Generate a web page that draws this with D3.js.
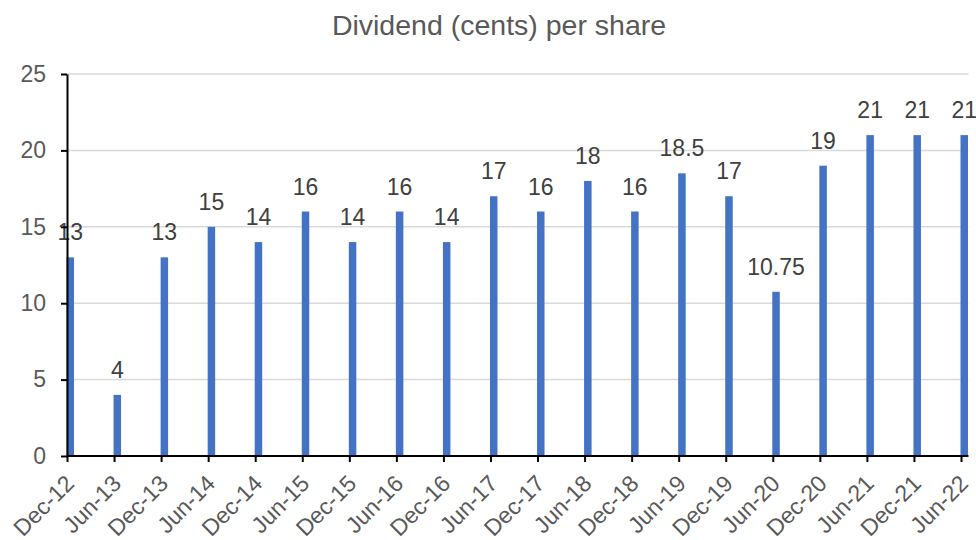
<!DOCTYPE html>
<meta charset="utf-8">
<script src="https://d3js.org/d3.v7.min.js"></script>
<style>
  body { margin: 0; background: #fff; }
  text { font-family: "Liberation Sans", Arial, sans-serif; }
</style>
<div id="chart"></div>
<script>
  // data
  var periods = ["Dec-12", "Jun-13", "Dec-13", "Jun-14", "Dec-14", "Jun-15", "Dec-15", "Jun-16", "Dec-16", "Jun-17",
                 "Dec-17", "Jun-18", "Dec-18", "Jun-19", "Dec-19", "Jun-20", "Dec-20", "Jun-21", "Dec-21", "Jun-22"];
  var dividends = [13, 4, 13, 15, 14, 16, 14, 16, 14, 17, 16, 18, 16, 18.5, 17, 10.75, 19, 21, 21, 21];
  var yTicks = [0, 5, 10, 15, 20, 25];
  var title = "Dividend (cents) per share";

  var width = 976, height = 540;
  var plotLeft = 67, plotRight = 961, plotTop = 74, plotBottom = 456;
  var barW = 7.5;

  var svg = d3.select("#chart")
    .append("svg")
      .attr("width", width)
      .attr("height", height);

  var x = d3.scalePoint()
    .domain(periods)
    .range([plotLeft, plotRight]);

  var y = d3.scaleLinear()
    .domain([0, 25])
    .range([plotBottom, plotTop]);

  // gridlines
  svg.append("g")
    .selectAll("line")
    .data(yTicks.slice(1))
    .join("line")
      .attr("x1", plotLeft)
      .attr("x2", plotRight + barW)
      .attr("y1", d => y(d))
      .attr("y2", d => y(d))
      .attr("stroke", "#d9d9d9")
      .attr("stroke-width", 1.5);

  // bars
  svg.append("g")
    .selectAll("rect")
    .data(dividends)
    .join("rect")
      .attr("x", (d, i) => x(periods[i]) - 0.5)
      .attr("y", d => y(d))
      .attr("width", barW)
      .attr("height", d => plotBottom - y(d))
      .attr("fill", "#4472C4");

  // value labels
  svg.append("g")
    .selectAll("text")
    .data(dividends)
    .join("text")
      .attr("x", (d, i) => x(periods[i]) - 0.5 + barW / 2)
      .attr("y", d => y(d) - 17)
      .attr("text-anchor", "middle")
      .attr("font-size", 23)
      .attr("fill", "#404040")
      .text(d => d);

  // y axis
  var yAxis = svg.append("g")
    .attr("transform", "translate(" + plotLeft + ",0)")
    .call(d3.axisLeft(y).tickValues(yTicks).tickSize(6).tickPadding(15).tickSizeOuter(0));
  yAxis.select(".domain").attr("stroke", "#000").attr("stroke-width", 2);
  yAxis.selectAll(".tick line").attr("stroke", "#000").attr("stroke-width", 2);
  yAxis.selectAll("text")
    .attr("font-size", 23)
    .attr("font-family", "Liberation Sans, Arial, sans-serif")
    .attr("fill", "#595959");

  // x axis
  var xAxis = svg.append("g")
    .attr("transform", "translate(0," + plotBottom + ")")
    .call(d3.axisBottom(x).tickSize(6).tickSizeOuter(0));
  xAxis.select(".domain")
    .attr("d", "M" + plotLeft + ",0H" + (plotRight + barW))
    .attr("stroke", "#000").attr("stroke-width", 2);
  xAxis.selectAll(".tick line").attr("stroke", "#000").attr("stroke-width", 2);
  xAxis.selectAll("text")
    .attr("font-size", 23)
    .attr("font-family", "Liberation Sans, Arial, sans-serif")
    .attr("fill", "#595959")
    .attr("dy", null)
    .attr("y", null)
    .attr("transform", "translate(8,29)rotate(-45)")
    .style("text-anchor", "end");

  // title
  svg.append("text")
    .attr("x", 499)
    .attr("y", 35)
    .attr("text-anchor", "middle")
    .attr("font-size", 28.5)
    .attr("fill", "#595959")
    .text(title);
</script>
